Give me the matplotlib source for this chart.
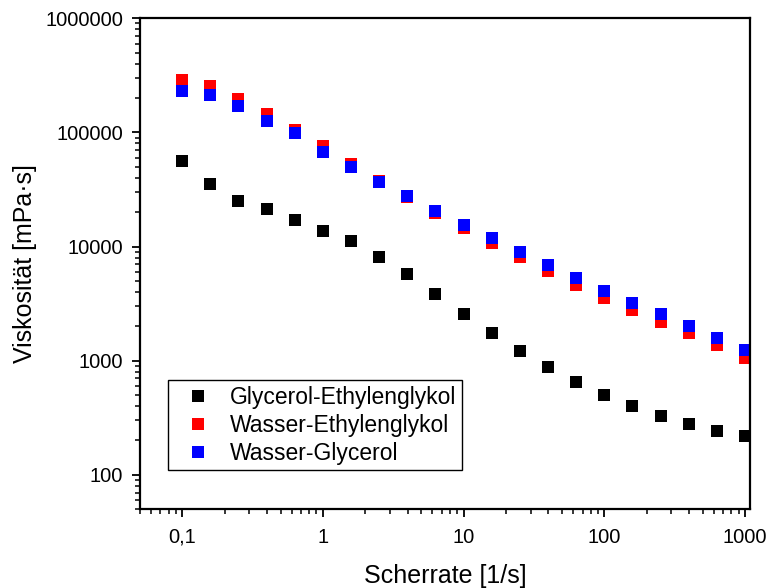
import matplotlib
matplotlib.use("Agg")
import matplotlib.pyplot as plt
from matplotlib.ticker import FixedLocator, FuncFormatter, LogLocator, NullFormatter

plt.rcParams['font.family'] = ['Liberation Sans', 'DejaVu Sans']

# shear rate [1/s], five points per decade
shear_rate = [0.1, 0.158, 0.251, 0.398, 0.631, 1, 1.58, 2.51, 3.98, 6.31,
              10, 15.8, 25.1, 39.8, 63.1, 100, 158, 251, 398, 631, 1000]

# viscosity [mPa·s]
glycerol_ethylenglykol = [56500, 35400, 25200, 21400, 17100, 13700, 11200, 8090, 5740, 3830,
                          2560, 1740, 1210, 877, 648, 498, 399, 326, 277, 241, 218]
wasser_ethylenglykol = [289000, 256000, 197000, 145000, 105000, 76000, 53000, 37600, 27200, 19700,
                        14500, 10700, 8090, 6100, 4590, 3530, 2770, 2180, 1740, 1370, 1050]
wasser_glycerol = [231000, 213000, 171000, 126000, 99000, 67500, 49800, 36800, 27700, 20500,
                   15400, 11900, 8950, 6880, 5290, 4070, 3190, 2560, 2010, 1575, 1240]

series = [
    ("Glycerol-Ethylenglykol", glycerol_ethylenglykol, "black"),
    ("Wasser-Ethylenglykol", wasser_ethylenglykol, "#ff0000"),
    ("Wasser-Glycerol", wasser_glycerol, "#0000ff"),
]

x_ticks = [0.1, 1, 10, 100, 1000]
y_ticks = [100, 1000, 10000, 100000, 1000000]

fig = plt.figure(figsize=(7.68, 5.88), dpi=100)
ax = fig.add_axes([0.182, 0.134, 0.795, 0.835])

for label, values, color in series:
    ax.plot(shear_rate, values, linestyle="none", marker="s", markersize=8,
            markeredgewidth=0, color=color, label=label)

ax.set_xscale("log")
ax.set_yscale("log")
ax.set_xlim(0.05, 1090)
ax.set_ylim(50, 1000000)

ax.xaxis.set_major_locator(FixedLocator(x_ticks))
ax.yaxis.set_major_locator(FixedLocator(y_ticks))
ax.xaxis.set_major_formatter(FuncFormatter(lambda v, p: f"{v:g}".replace(".", ",")))
ax.yaxis.set_major_formatter(FuncFormatter(lambda v, p: f"{int(round(v))}"))
for axis in (ax.xaxis, ax.yaxis):
    axis.set_minor_locator(LogLocator(base=10, subs=range(2, 10), numticks=20))
    axis.set_minor_formatter(NullFormatter())

ax.tick_params(which="major", direction="out", length=5.5, width=1.3, labelsize=14.5)
ax.tick_params(axis="x", which="major", pad=8)
ax.tick_params(axis="y", which="major", pad=6.5)
ax.tick_params(which="minor", direction="out", length=3.5, width=1.1)
for spine in ax.spines.values():
    spine.set_linewidth(1.6)

ax.set_xlabel("Scherrate [1/s]", fontsize=18, labelpad=12)
ax.set_ylabel("Viskosität [mPa·s]", fontsize=18, labelpad=6)

leg = ax.legend(loc="lower left", bbox_to_anchor=(0.046, 0.079), borderaxespad=0,
                fontsize=16.5, frameon=True, fancybox=False, framealpha=1,
                edgecolor="black", handletextpad=0.36, borderpad=0.25,
                labelspacing=0.22, handlelength=2.1, markerscale=1.05)
leg.get_frame().set_linewidth(1.0)

fig.savefig("out.png", dpi=100)
